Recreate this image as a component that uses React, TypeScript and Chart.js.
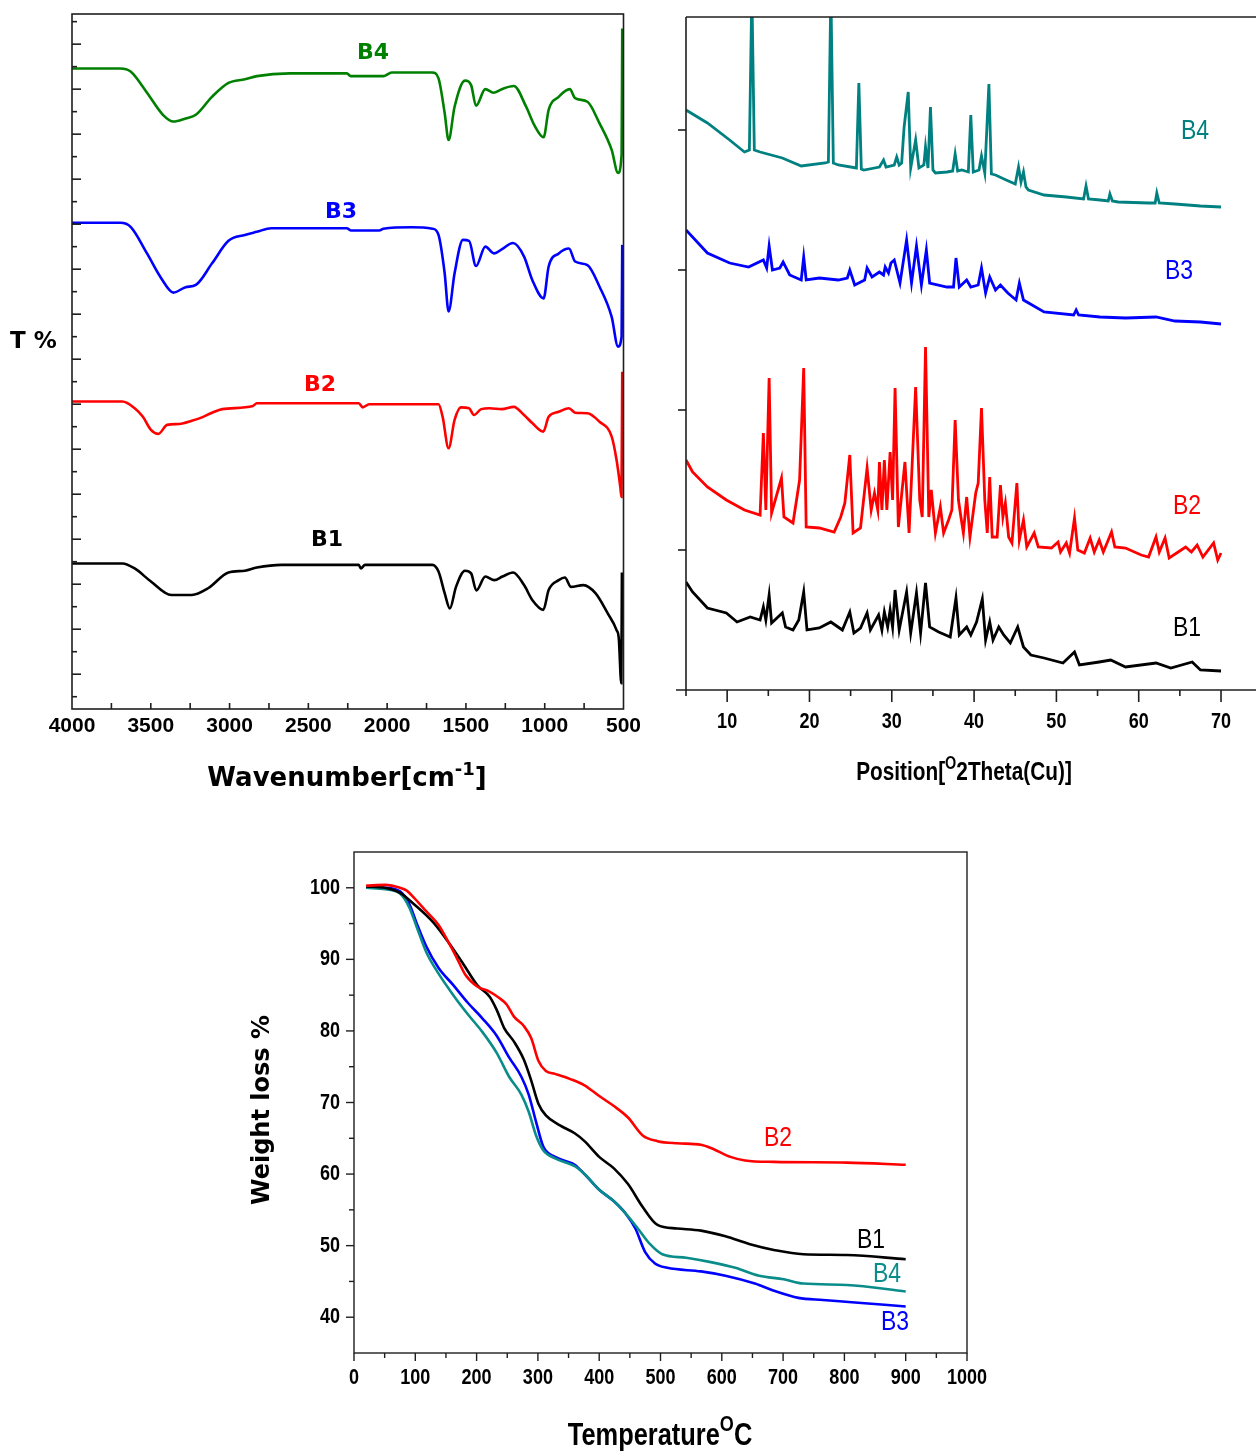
import React, { useEffect, useRef } from "react";
import { Chart, registerables } from "chart.js";

Chart.register(...registerables);

// ---------------- FTIR (wavenumber cm-1, transmittance a.u.) ----------------
const ftirB4Wn = [4000, 3693, 3628, 3524, 3423, 3356, 3279, 3214, 3112, 3007, 2903, 2827, 2618, 2256, 2231, 2024, 1971, 1713, 1674, 1635, 1610, 1572, 1506, 1467, 1436, 1377, 1325, 1273, 1196, 1118, 1066, 1007, 975, 911, 841, 807, 729, 652, 575, 535, 512, 508];
const ftirB4T = [139.6, 139.6, 138.9, 134.2, 129.3, 127.8, 128.5, 129.3, 133.3, 136.4, 137.2, 137.9, 138.5, 138.5, 137.9, 137.9, 138.7, 138.7, 137.4, 129.7, 123.7, 131.1, 136.9, 135.9, 131.3, 135.0, 134.2, 135.0, 135.7, 131.1, 127.0, 124.3, 130.4, 133.3, 135.0, 133.0, 132.2, 127.4, 121.5, 116.4, 120.5, 148.5];

const ftirB3Wn = [4000, 3693, 3628, 3524, 3434, 3356, 3279, 3214, 3111, 3007, 2903, 2827, 2736, 2256, 2231, 2050, 2024, 1844, 1713, 1674, 1635, 1610, 1572, 1519, 1480, 1436, 1377, 1320, 1273, 1201, 1131, 1079, 1007, 975, 911, 846, 807, 729, 652, 575, 535, 512, 508];
const ftirB3T = [105.3, 105.3, 104.4, 98.5, 93.0, 89.8, 91.0, 91.5, 96.3, 101.3, 102.6, 103.3, 104.1, 104.1, 103.6, 103.6, 104.0, 104.3, 104.0, 102.6, 94.1, 85.6, 94.1, 101.5, 101.3, 95.7, 100.0, 98.5, 99.4, 100.8, 97.8, 92.6, 88.5, 95.6, 98.5, 99.6, 96.7, 95.9, 91.1, 84.4, 77.8, 80.0, 100.4];

const ftirB2Wn = [4000, 3680, 3602, 3550, 3499, 3452, 3396, 3318, 3240, 3188, 3111, 3046, 2852, 2827, 2180, 2155, 2114, 1674, 1648, 1610, 1572, 1532, 1480, 1449, 1403, 1350, 1273, 1196, 1131, 1079, 1009, 975, 911, 846, 807, 729, 652, 575, 544, 520, 513, 508];
const ftirB2T = [65.6, 65.6, 64.1, 62.2, 59.3, 58.4, 60.4, 60.6, 61.3, 61.9, 63.1, 63.9, 64.6, 65.2, 65.2, 64.3, 65.0, 65.0, 62.2, 55.2, 61.5, 64.3, 64.1, 62.6, 63.9, 64.1, 63.9, 64.4, 62.6, 60.8, 58.9, 62.2, 63.3, 64.1, 63.1, 63.0, 61.1, 57.8, 52.6, 46.5, 44.4, 72.2];

const ftirB1Wn = [4000, 3680, 3602, 3499, 3370, 3240, 3136, 3007, 2903, 2827, 2671, 2180, 2167, 2140, 1713, 1674, 1635, 1602, 1563, 1506, 1467, 1434, 1377, 1320, 1268, 1201, 1131, 1079, 1009, 975, 911, 872, 833, 755, 678, 600, 544, 530, 514, 510];
const ftirB1T = [29.6, 29.6, 28.5, 25.6, 22.6, 22.6, 24.1, 27.6, 28.0, 28.7, 29.3, 29.3, 28.5, 29.3, 29.3, 27.8, 23.0, 19.6, 24.4, 28.0, 27.4, 23.6, 26.7, 25.9, 26.7, 27.6, 24.8, 21.5, 19.3, 23.7, 25.9, 26.5, 24.4, 24.8, 23.0, 18.5, 14.8, 13.0, 3.0, 27.6];

const ftirXTicks = [4000, 3500, 3000, 2500, 2000, 1500, 1000, 500];

// ---------------- XRD (2theta, intensity a.u., stacked) ----------------
const xrdB4Theta = [5.0, 7.6, 10.3, 12.1, 12.7, 13.0, 13.3, 14.0, 16.7, 19.0, 21.9, 22.3, 22.6, 22.9, 23.5, 25.7, 26.0, 26.3, 26.6, 28.5, 29.0, 29.3, 30.3, 30.6, 30.9, 31.2, 31.5, 32.0, 32.3, 32.9, 33.3, 33.9, 34.1, 34.4, 34.7, 35.0, 35.3, 36.7, 37.4, 37.7, 38.0, 38.5, 39.3, 39.6, 39.9, 40.6, 40.9, 41.3, 41.8, 42.1, 42.6, 43.9, 45.0, 45.4, 45.7, 46.0, 46.3, 46.6, 48.5, 51.2, 53.3, 53.6, 53.9, 55.3, 56.3, 56.5, 56.8, 57.5, 61.2, 62.0, 62.2, 62.5, 64.4, 67.5, 70.0];
const xrdB4I = [580, 567, 550, 538, 540, 700, 540, 538, 532, 524, 527, 528, 700, 527, 525, 522, 607, 521, 520, 523, 530, 523, 525, 533, 525, 527, 563, 598, 522, 550, 522, 525, 543, 522, 583, 520, 517, 518, 519, 536, 519, 520, 518, 575, 518, 520, 534, 517, 606, 516, 515, 510, 506, 523, 508, 518, 503, 500, 495, 493, 491, 504, 491, 490, 489, 496, 489, 488, 487, 487, 497, 487, 486, 484, 483];

const xrdB3Theta = [5.0, 7.6, 10.3, 12.6, 14.4, 14.8, 15.1, 15.5, 16.4, 16.8, 17.6, 19.0, 19.3, 19.6, 21.2, 23.5, 24.6, 24.9, 25.5, 26.7, 27.0, 27.6, 28.5, 29.0, 29.2, 29.6, 29.9, 30.3, 31.0, 31.8, 32.4, 33.0, 33.6, 34.2, 34.6, 36.7, 37.5, 37.8, 38.2, 39.1, 39.6, 40.5, 40.9, 41.4, 41.9, 42.6, 43.2, 44.1, 45.1, 45.5, 46.0, 48.5, 52.1, 52.4, 52.7, 55.3, 58.4, 62.1, 64.4, 67.5, 70.0];
const xrdB3I = [460, 437, 427, 423, 430, 422, 444, 420, 422, 428, 415, 410, 433, 410, 412, 410, 412, 420, 405, 410, 422, 413, 418, 415, 423, 417, 427, 430, 407, 450, 407, 444, 405, 440, 407, 403, 403, 432, 403, 410, 403, 405, 422, 397, 413, 400, 405, 397, 390, 407, 390, 378, 375, 380, 375, 373, 372, 373, 369, 368, 366];

const xrdB2Theta = [5.0, 5.8, 7.6, 9.9, 12.1, 14.0, 14.4, 14.7, 15.1, 15.4, 16.6, 16.9, 18.0, 18.8, 19.3, 19.6, 21.2, 23.0, 23.8, 24.3, 24.9, 25.3, 26.2, 27.0, 27.5, 27.9, 28.3, 28.5, 28.8, 29.1, 29.4, 29.8, 30.1, 30.4, 30.8, 31.6, 32.1, 32.9, 33.4, 33.7, 34.1, 34.5, 34.8, 35.3, 35.9, 36.3, 36.9, 37.3, 37.7, 38.1, 38.4, 38.7, 39.1, 39.5, 40.2, 40.5, 40.9, 41.3, 41.6, 41.9, 42.2, 42.8, 43.2, 43.5, 43.8, 44.2, 44.6, 45.2, 45.5, 46.0, 46.4, 47.3, 47.8, 49.4, 50.2, 50.5, 51.2, 51.6, 52.2, 52.6, 53.4, 54.1, 54.6, 55.2, 55.7, 56.3, 56.7, 57.1, 58.4, 60.3, 61.2, 62.1, 62.5, 63.2, 63.7, 64.8, 65.7, 66.4, 67.1, 67.8, 69.1, 69.6, 70.0];
const xrdB2I = [230, 218, 203, 190, 180, 175, 257, 180, 312, 177, 212, 173, 167, 210, 322, 163, 162, 158, 173, 187, 235, 157, 162, 222, 180, 197, 180, 228, 180, 230, 180, 238, 190, 302, 163, 228, 157, 303, 190, 173, 343, 173, 200, 157, 183, 157, 170, 180, 270, 190, 173, 157, 193, 153, 197, 207, 282, 190, 157, 213, 153, 153, 205, 173, 187, 153, 147, 207, 150, 170, 143, 157, 143, 142, 148, 138, 147, 137, 172, 140, 137, 152, 138, 150, 138, 150, 158, 143, 142, 135, 133, 153, 138, 152, 132, 138, 143, 138, 145, 133, 147, 130, 137];

const xrdB1Theta = [5.0, 5.8, 7.6, 9.9, 11.2, 12.8, 14.0, 14.4, 14.7, 15.1, 15.4, 16.7, 17.1, 18.0, 18.7, 19.3, 19.7, 21.2, 22.6, 24.0, 24.9, 25.4, 26.2, 27.0, 27.4, 28.4, 28.8, 29.1, 29.5, 29.8, 30.1, 30.4, 30.9, 31.8, 32.3, 33.0, 33.5, 34.1, 34.6, 35.7, 37.1, 37.8, 38.2, 39.1, 39.6, 40.3, 41.0, 41.4, 41.9, 42.3, 43.0, 43.6, 44.4, 45.3, 46.0, 46.9, 48.5, 50.8, 52.2, 52.8, 55.2, 56.6, 58.4, 62.1, 63.9, 66.5, 67.5, 70.0];
const xrdB1I = [108, 98, 82, 77, 68, 73, 70, 83, 70, 95, 67, 77, 63, 60, 70, 98, 60, 62, 68, 60, 78, 57, 62, 77, 60, 75, 60, 78, 63, 80, 63, 100, 60, 98, 57, 97, 57, 107, 63, 58, 53, 92, 55, 63, 55, 68, 91, 50, 68, 50, 63, 55, 47, 63, 43, 35, 32, 27, 38, 25, 28, 30, 23, 27, 22, 28, 20, 19];

const xrdXTicks = [10, 20, 30, 40, 50, 60, 70];
const xrdYTicks = [140, 280, 420, 560];

// ---------------- TGA (temperature C, weight %) ----------------
const tgaB1Temp = [20, 50, 75, 98, 130, 154, 178, 201, 221, 233, 245, 261, 277, 289, 301, 313, 336, 360, 376, 400, 424, 447, 471, 495, 527, 566, 606, 646, 685, 733, 804, 900];
const tgaB1W = [100.2, 100, 99.3, 97.7, 95.1, 92.4, 89.4, 86.4, 84.8, 82.9, 80.4, 78.5, 76.0, 73.1, 69.8, 68.2, 66.8, 65.7, 64.6, 62.4, 60.8, 58.6, 55.4, 52.9, 52.4, 52.1, 51.3, 50.2, 49.4, 48.8, 48.7, 48.1];

const tgaB2Temp = [20, 51, 75, 86, 98, 118, 138, 154, 166, 182, 201, 221, 237, 249, 261, 277, 289, 301, 313, 328, 352, 376, 400, 424, 447, 471, 495, 527, 566, 586, 614, 638, 685, 804, 900];
const tgaB2W = [100.3, 100.4, 100, 99.6, 98.6, 96.7, 94.8, 92.4, 90.5, 87.8, 86.2, 85.5, 84.6, 83.7, 82.0, 80.7, 79.0, 75.8, 74.4, 74.0, 73.3, 72.4, 70.9, 69.5, 67.9, 65.4, 64.6, 64.3, 64.1, 63.5, 62.4, 61.9, 61.7, 61.6, 61.3];

const tgaB3Temp = [20, 51, 75, 90, 102, 118, 138, 162, 186, 209, 233, 253, 273, 285, 297, 309, 328, 360, 376, 400, 424, 443, 459, 475, 491, 511, 566, 606, 654, 685, 725, 765, 812, 900];
const tgaB3W = [100, 100, 99.5, 97.8, 95.1, 91.8, 88.8, 86.4, 83.9, 81.8, 79.3, 76.3, 73.6, 71.1, 67.3, 63.8, 62.4, 61.3, 60.0, 57.8, 56.2, 54.5, 52.4, 49.1, 47.5, 46.9, 46.4, 45.8, 44.7, 43.7, 42.7, 42.4, 42.1, 41.5];

const tgaB4Temp = [20, 51, 75, 90, 102, 118, 138, 162, 186, 209, 233, 253, 273, 285, 297, 309, 328, 360, 376, 400, 424, 443, 463, 483, 503, 542, 582, 622, 661, 701, 733, 804, 900];
const tgaB4W = [100, 99.8, 99.2, 97.3, 94.6, 91.0, 88.0, 85.0, 82.3, 79.9, 76.9, 73.6, 71.1, 68.7, 65.4, 63.3, 62.2, 61.1, 60.0, 57.8, 56.2, 54.5, 52.4, 50.2, 48.8, 48.3, 47.7, 46.9, 45.8, 45.3, 44.7, 44.5, 43.6];

const tgaXTicks = [0, 100, 200, 300, 400, 500, 600, 700, 800, 900, 1000];
const tgaYTicks = [40, 50, 60, 70, 80, 90, 100];

// ---------------- helpers ----------------
const ARIAL = "'Liberation Sans', Arial, sans-serif";
const VERDANA = "'DejaVu Sans', Verdana, sans-serif";
const NARROW_SX = 0.82; // horizontal squeeze to imitate Arial Narrow
const AXIS = "#1e1e1e";

function pts(xs: number[], ys: number[]) {
  return xs.map((x, i) => ({ x, y: ys[i] }));
}

function seg(ctx: any, x1: number, y1: number, x2: number, y2: number) {
  ctx.beginPath();
  ctx.moveTo(x1, y1);
  ctx.lineTo(x2, y2);
  ctx.stroke();
}

function rich(ctx: any, parts: [string, boolean][], cx: number, cy: number, size: number, family: string, weight: string, sx = 1) {
  ctx.save();
  ctx.translate(cx, cy);
  ctx.scale(sx, 1);
  const supSize = Math.round(size * 0.7);
  const fMain = `${weight} ${size}px ${family}`;
  const fSup = `${weight} ${supSize}px ${family}`;
  let total = 0;
  const widths = parts.map(([t, sup]) => {
    ctx.font = sup ? fSup : fMain;
    const w = ctx.measureText(t).width;
    total += w;
    return w;
  });
  let x = -total / 2;
  ctx.textAlign = "left";
  ctx.textBaseline = "alphabetic";
  const base = size * 0.36;
  parts.forEach(([t, sup], i) => {
    ctx.font = sup ? fSup : fMain;
    ctx.fillText(t, x, sup ? base - size * 0.45 : base);
    x += widths[i];
  });
  ctx.restore();
}

function txt(ctx: any, t: string, x: number, y: number, color: string, font: string, align = "center", sx = 1) {
  ctx.save();
  ctx.translate(x, y);
  ctx.scale(sx, 1);
  ctx.fillStyle = color;
  ctx.font = font;
  ctx.textAlign = align;
  ctx.textBaseline = "middle";
  ctx.fillText(t, 0, 0);
  ctx.restore();
}

function lineDs(label: string, data: any[], color: string, width: number, mono: boolean) {
  return {
    label,
    data,
    borderColor: color,
    backgroundColor: color,
    borderWidth: width,
    pointRadius: 0,
    fill: false,
    cubicInterpolationMode: mono ? "monotone" : "default",
    tension: 0,
  };
}

// ---------------- plugins ----------------
const ftirDecor = {
  id: "ftirDecor",
  afterDraw(chart: any) {
    const { ctx, chartArea: a, scales } = chart;
    const x = scales.x;
    const y = scales.y;
    ctx.save();
    ctx.strokeStyle = AXIS;
    ctx.lineWidth = 1.6;
    ctx.strokeRect(a.left, a.top, a.right - a.left, a.bottom - a.top);
    for (let k = 0; k <= 30; k++) {
      const py = y.getPixelForValue(k * 5);
      seg(ctx, a.left, py, a.left + (k % 2 ? 9 : 5), py);
    }
    for (let w = 3750; w > 500; w -= 250) {
      const px = x.getPixelForValue(w);
      seg(ctx, px, a.bottom, px, a.bottom - 6);
    }
    txt(ctx, "T %", 10, 342, "#000", `bold 23px ${VERDANA}`, "left");
    ctx.fillStyle = "#000";
    rich(ctx, [["Wavenumber[cm", false], ["-1", true], ["]", false]], 347, 777, 26, VERDANA, "bold");
    const lf = `bold 22px ${VERDANA}`;
    txt(ctx, "B4", 373, 53, "#008000", lf);
    txt(ctx, "B3", 341, 212, "#0000ff", lf);
    txt(ctx, "B2", 320, 385, "#ff0000", lf);
    txt(ctx, "B1", 327, 540, "#000000", lf);
    ctx.restore();
  },
};

const xrdDecor = {
  id: "xrdDecor",
  afterDraw(chart: any) {
    const { ctx, chartArea: a, scales, width } = chart;
    const x = scales.x;
    const y = scales.y;
    ctx.save();
    ctx.strokeStyle = AXIS;
    ctx.lineWidth = 1.6;
    seg(ctx, a.left, a.top, a.left, a.bottom);
    seg(ctx, a.left, a.top, width, a.top);
    seg(ctx, a.left - 10, a.bottom, width, a.bottom);
    for (let v = 5; v <= 70; v += 5) {
      const px = x.getPixelForValue(v);
      seg(ctx, px, a.bottom, px, a.bottom + (v % 10 === 0 ? 12 : 6));
    }
    xrdYTicks.forEach((v) => {
      const py = y.getPixelForValue(v);
      seg(ctx, a.left, py, a.left - 8, py);
    });
    const tf = `bold 22px ${ARIAL}`;
    xrdXTicks.forEach((v) => {
      txt(ctx, String(v), x.getPixelForValue(v), a.bottom + 32, "#000", tf, "center", NARROW_SX);
    });
    ctx.fillStyle = "#000";
    rich(ctx, [["Position[", false], ["O", true], ["2Theta(Cu)]", false]], 304, 771, 26, ARIAL, "bold", 0.8);
    const lf = `28px ${ARIAL}`;
    txt(ctx, "B4", 535, 131, "#008080", lf, "center", NARROW_SX);
    txt(ctx, "B3", 519, 271, "#0000ff", lf, "center", NARROW_SX);
    txt(ctx, "B2", 527, 506, "#ff0000", lf, "center", NARROW_SX);
    txt(ctx, "B1", 527, 628, "#000000", lf, "center", NARROW_SX);
    ctx.restore();
  },
};

const tgaDecor = {
  id: "tgaDecor",
  afterDraw(chart: any) {
    const { ctx, chartArea: a, scales } = chart;
    const x = scales.x;
    const y = scales.y;
    ctx.save();
    ctx.strokeStyle = AXIS;
    ctx.lineWidth = 1.4;
    ctx.strokeRect(a.left, a.top, a.right - a.left, a.bottom - a.top);
    for (let v = 0; v <= 1000; v += 50) {
      const px = x.getPixelForValue(v);
      seg(ctx, px, a.bottom, px, a.bottom + (v % 100 === 0 ? 8 : 5));
    }
    for (let v = 40; v <= 100; v += 5) {
      const py = y.getPixelForValue(v);
      seg(ctx, a.left, py, a.left - (v % 10 === 0 ? 8 : 5), py);
    }
    const tf = `bold 22px ${ARIAL}`;
    tgaXTicks.forEach((v) => {
      txt(ctx, String(v), x.getPixelForValue(v), a.bottom + 25, "#000", tf, "center", NARROW_SX);
    });
    tgaYTicks.forEach((v) => {
      txt(ctx, String(v), a.left - 14, y.getPixelForValue(v), "#000", tf, "right", NARROW_SX);
    });
    ctx.save();
    ctx.translate(23, 280);
    ctx.rotate(-Math.PI / 2);
    txt(ctx, "Weight loss %", 0, 0, "#000", `bold 24px ${VERDANA}`);
    ctx.restore();
    ctx.fillStyle = "#000";
    rich(ctx, [["Temperature", false], ["O", true], ["C", false]], 420, 604, 31, ARIAL, "bold", NARROW_SX);
    const lf = `28px ${ARIAL}`;
    txt(ctx, "B2", 538, 308, "#ff0000", lf, "center", NARROW_SX);
    txt(ctx, "B1", 631, 410, "#000000", lf, "center", NARROW_SX);
    txt(ctx, "B4", 647, 444, "#0a8c8a", lf, "center", NARROW_SX);
    txt(ctx, "B3", 655, 492, "#0000ff", lf, "center", NARROW_SX);
    ctx.restore();
  },
};

// ---------------- configs ----------------
const noUi = { legend: { display: false }, tooltip: { enabled: false } };

function ftirConfig(): any {
  return {
    type: "line",
    data: {
      datasets: [
        lineDs("B4", pts(ftirB4Wn, ftirB4T), "#008000", 2.6, true),
        lineDs("B3", pts(ftirB3Wn, ftirB3T), "#0000ff", 2.6, true),
        lineDs("B2", pts(ftirB2Wn, ftirB2T), "#ff0000", 2.6, true),
        lineDs("B1", pts(ftirB1Wn, ftirB1T), "#000000", 2.6, true),
      ],
    },
    options: {
      animation: false,
      responsive: false,
      events: [],
      layout: { padding: { left: 72, top: 14, right: 26.5, bottom: 51 } },
      plugins: noUi,
      scales: {
        x: {
          type: "linear",
          reverse: true,
          min: 500,
          max: 4000,
          position: "bottom",
          afterBuildTicks: (s: any) => {
            s.ticks = ftirXTicks.map((v) => ({ value: v }));
          },
          afterFit: (s: any) => {
            s.height = 40;
          },
          grid: { display: false, drawTicks: false },
          border: { display: false },
          ticks: {
            padding: 5,
            color: "#000",
            autoSkip: false,
            maxRotation: 0,
            font: { family: ARIAL, size: 21, weight: "bold" },
            callback: (v: any) => String(v),
          },
        },
        y: { type: "linear", display: false, min: -2.73, max: 151.7 },
      },
    },
    plugins: [ftirDecor],
  };
}

function xrdConfig(): any {
  return {
    type: "line",
    data: {
      datasets: [
        lineDs("B4", pts(xrdB4Theta, xrdB4I), "#008080", 2.8, false),
        lineDs("B3", pts(xrdB3Theta, xrdB3I), "#0000ff", 2.8, false),
        lineDs("B2", pts(xrdB2Theta, xrdB2I), "#ff0000", 2.8, false),
        lineDs("B1", pts(xrdB1Theta, xrdB1I), "#000000", 2.8, false),
      ],
    },
    options: {
      animation: false,
      responsive: false,
      events: [],
      layout: { padding: { left: 26, top: 17, right: 0, bottom: 110 } },
      plugins: noUi,
      scales: {
        x: { type: "linear", display: false, min: 5, max: 74.25 },
        y: { type: "linear", display: false, min: 0, max: 673 },
      },
    },
    plugins: [xrdDecor],
  };
}

function tgaConfig(): any {
  return {
    type: "line",
    data: {
      datasets: [
        lineDs("B2", pts(tgaB2Temp, tgaB2W), "#ff0000", 2.6, true),
        lineDs("B1", pts(tgaB1Temp, tgaB1W), "#000000", 2.6, true),
        lineDs("B4", pts(tgaB4Temp, tgaB4W), "#0a8c8a", 2.6, true),
        lineDs("B3", pts(tgaB3Temp, tgaB3W), "#0000ff", 2.6, true),
      ],
    },
    options: {
      animation: false,
      responsive: false,
      events: [],
      layout: { padding: { left: 114, top: 22, right: 53, bottom: 98 } },
      plugins: noUi,
      scales: {
        x: { type: "linear", display: false, min: 0, max: 1000 },
        y: { type: "linear", display: false, min: 35, max: 105 },
      },
    },
    plugins: [tgaDecor],
  };
}

function ChartCanvas(props: { left: number; top: number; width: number; height: number; make: () => any }) {
  const ref = useRef<HTMLCanvasElement>(null);
  useEffect(() => {
    const chart = new Chart(ref.current as HTMLCanvasElement, props.make());
    return () => chart.destroy();
  }, []);
  return (
    <canvas
      ref={ref}
      width={props.width}
      height={props.height}
      style={{ position: "absolute", left: props.left, top: props.top, width: props.width, height: props.height }}
    />
  );
}

export default function App() {
  return (
    <div style={{ position: "absolute", left: 0, top: 0, width: 1256, height: 1451, background: "#fff", overflow: "hidden" }}>
      <ChartCanvas left={0} top={0} width={650} height={800} make={ftirConfig} />
      <ChartCanvas left={660} top={0} width={596} height={800} make={xrdConfig} />
      <ChartCanvas left={240} top={830} width={780} height={621} make={tgaConfig} />
    </div>
  );
}
